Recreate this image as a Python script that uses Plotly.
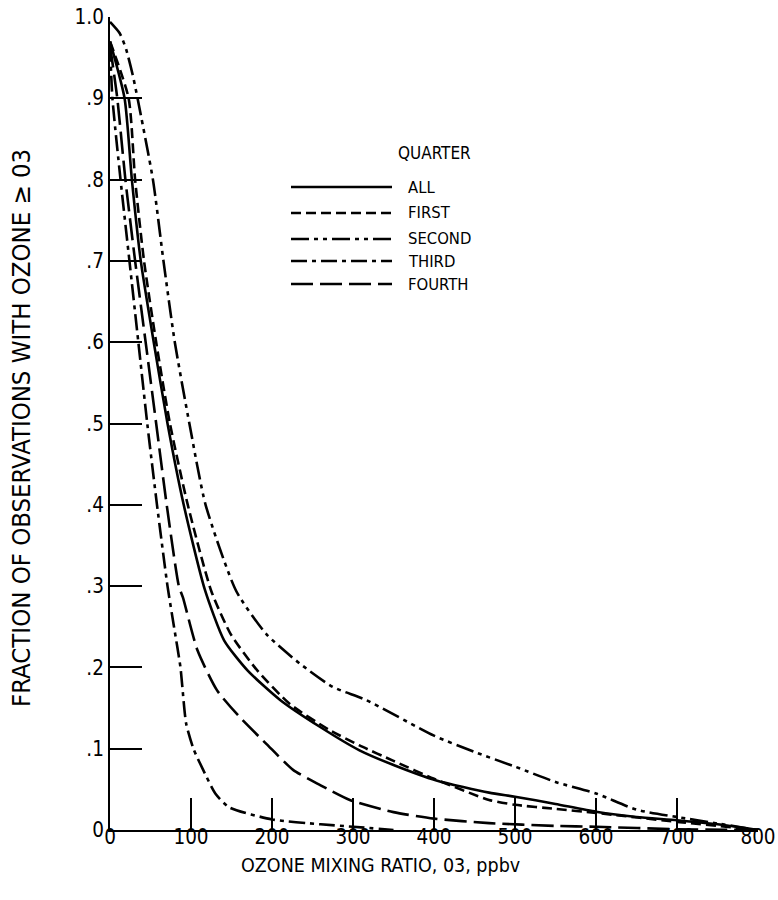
import plotly.graph_objects as go

# ---------------- data ----------------
quarters = ["ALL", "FIRST", "SECOND", "THIRD", "FOURTH"]

all_x = [0, 18, 27, 38, 54, 71, 91, 117, 141, 170, 210, 259, 308, 350, 403, 468, 500, 550, 600, 650, 700, 750, 800]
all_y = [0.97, 0.9, 0.8, 0.7, 0.6, 0.5, 0.4, 0.296, 0.233, 0.196, 0.16, 0.127, 0.098, 0.08, 0.061, 0.046, 0.041, 0.032, 0.0225, 0.016, 0.012, 0.007, 0.0]

first_x = [0, 23, 31, 42, 57, 74, 96, 125, 149, 182, 222, 271, 308, 350, 400, 468, 500, 550, 600, 700, 800]
first_y = [0.97, 0.9, 0.8, 0.7, 0.6, 0.5, 0.4, 0.294, 0.241, 0.196, 0.155, 0.123, 0.104, 0.085, 0.063, 0.037, 0.031, 0.026, 0.021, 0.010, 0.0]

second_x = [0, 12, 20, 28, 34, 53, 66, 80, 98, 118, 155.8, 193, 234, 275, 316, 400, 450, 500, 550, 600, 650, 700, 750, 800]
second_y = [0.994, 0.98, 0.96, 0.929, 0.9, 0.8, 0.7, 0.6, 0.5, 0.4, 0.294, 0.241, 0.205, 0.176, 0.16, 0.116, 0.096, 0.078, 0.059, 0.045, 0.025, 0.016, 0.008, 0.0]

third_x = [0, 3, 13, 24, 35, 46, 58, 71, 79, 87, 94, 103, 115, 130, 147, 200, 260, 300, 350]
third_y = [0.965, 0.9, 0.8, 0.7, 0.6, 0.5, 0.4, 0.3, 0.25, 0.2, 0.131, 0.1, 0.074, 0.045, 0.028, 0.013, 0.007, 0.004, 0.0]

fourth_x = [0, 9, 19, 31, 44, 57, 70, 85, 90, 108, 132, 160, 193, 226, 260, 296, 350, 400, 468, 550, 600, 700, 800]
fourth_y = [0.965, 0.9, 0.8, 0.7, 0.6, 0.5, 0.4, 0.3, 0.286, 0.221, 0.172, 0.139, 0.106, 0.074, 0.055, 0.037, 0.022, 0.014, 0.0085, 0.005, 0.004, 0.001, 0.0]

x_tick_vals = [0, 100, 200, 300, 400, 500, 600, 700, 800]
x_tick_text = ["0", "100", "200", "300", "400", "500", "600", "700", "800"]
y_tick_vals = [0, 0.1, 0.2, 0.3, 0.4, 0.5, 0.6, 0.7, 0.8, 0.9, 1.0]
y_tick_text = ["0", ".1", ".2", ".3", ".4", ".5", ".6", ".7", ".8", ".9", "1.0"]

legend_title = "QUARTER"
x_title = "OZONE MIXING RATIO, 03, ppbv"
y_title = "FRACTION OF OBSERVATIONS WITH OZONE \u2265 03"

# ---------------- styling ----------------
FONT = "DejaVu Sans Condensed, DejaVu Sans, sans-serif"
dashes = {
    "ALL": "solid",
    "FIRST": "10px,5px",
    "SECOND": "18px,5px,4px,5px,4px,5px",
    "THIRD": "16px,5px,4px,5px",
    "FOURTH": "22px,7px",
}
series = {
    "ALL": (all_x, all_y),
    "FIRST": (first_x, first_y),
    "SECOND": (second_x, second_y),
    "THIRD": (third_x, third_y),
    "FOURTH": (fourth_x, fourth_y),
}

fig = go.Figure()
for q in quarters:
    xs, ys = series[q]
    fig.add_trace(go.Scatter(
        x=xs, y=ys, mode="lines", name=q, showlegend=False,
        line=dict(color="black", width=2.6, dash=dashes[q], shape="spline", smoothing=0.6),
    ))

# manual legend (long sample lines like the reference)
L, R, T, B = 110, 20, 17, 70
W, H = 778 - L - R, 900 - T - B


def px2paper(px, py):
    return (px - L) / W, (900 - B - py) / H


legend_rows = [187, 213, 239, 261, 284]
for q, py in zip(quarters, legend_rows):
    x0, y0 = px2paper(291, py)
    x1, _ = px2paper(392, py)
    fig.add_shape(type="line", xref="paper", yref="paper", x0=x0, x1=x1, y0=y0, y1=y0,
                  line=dict(color="black", width=2.6, dash=dashes[q]))
    tx, ty = px2paper(406, py)
    fig.add_annotation(xref="paper", yref="paper", x=tx, y=ty, text=q, showarrow=False,
                       xanchor="left", yanchor="middle", font=dict(family=FONT, size=16.5, color="black"))

qx, qy = px2paper(434, 153)
fig.add_annotation(xref="paper", yref="paper", x=qx, y=qy, text=legend_title, showarrow=False,
                   xanchor="center", yanchor="middle", font=dict(family=FONT, size=17, color="black"))

# axis titles
tx, ty = px2paper(380, 865)
fig.add_annotation(xref="paper", yref="paper", x=tx, y=ty, text=x_title, showarrow=False,
                   xanchor="center", yanchor="middle", font=dict(family=FONT, size=19.5, color="black"))
tx, ty = px2paper(21, 428)
fig.add_annotation(xref="paper", yref="paper", x=tx, y=ty, text=y_title, showarrow=False, textangle=-90,
                   xanchor="center", yanchor="middle", font=dict(family=FONT, size=25.5, color="black"))

axis_common = dict(
    showgrid=False, zeroline=False, showline=True, linecolor="black", linewidth=2,
    ticks="inside", ticklen=32, tickwidth=2, tickcolor="black",
    tickfont=dict(family=FONT, size=20.5, color="black"), mirror=False,
    ticklabeloverflow="allow",
)
fig.update_xaxes(range=[0, 800], tickvals=x_tick_vals, ticktext=x_tick_text, ticklabelstandoff=-13, **axis_common)
fig.update_yaxes(range=[0, 1.0], tickvals=y_tick_vals, ticktext=y_tick_text, ticklabelstandoff=0, **axis_common)

fig.update_layout(
    width=778, height=900,
    margin=dict(l=L, r=R, t=T, b=B, autoexpand=False),
    plot_bgcolor="white", paper_bgcolor="white",
    font=dict(family=FONT, color="black"),
    showlegend=False,
)

fig.write_html("out.html", config={"displayModeBar": False},
               post_script="document.body.style.margin='0px';")
